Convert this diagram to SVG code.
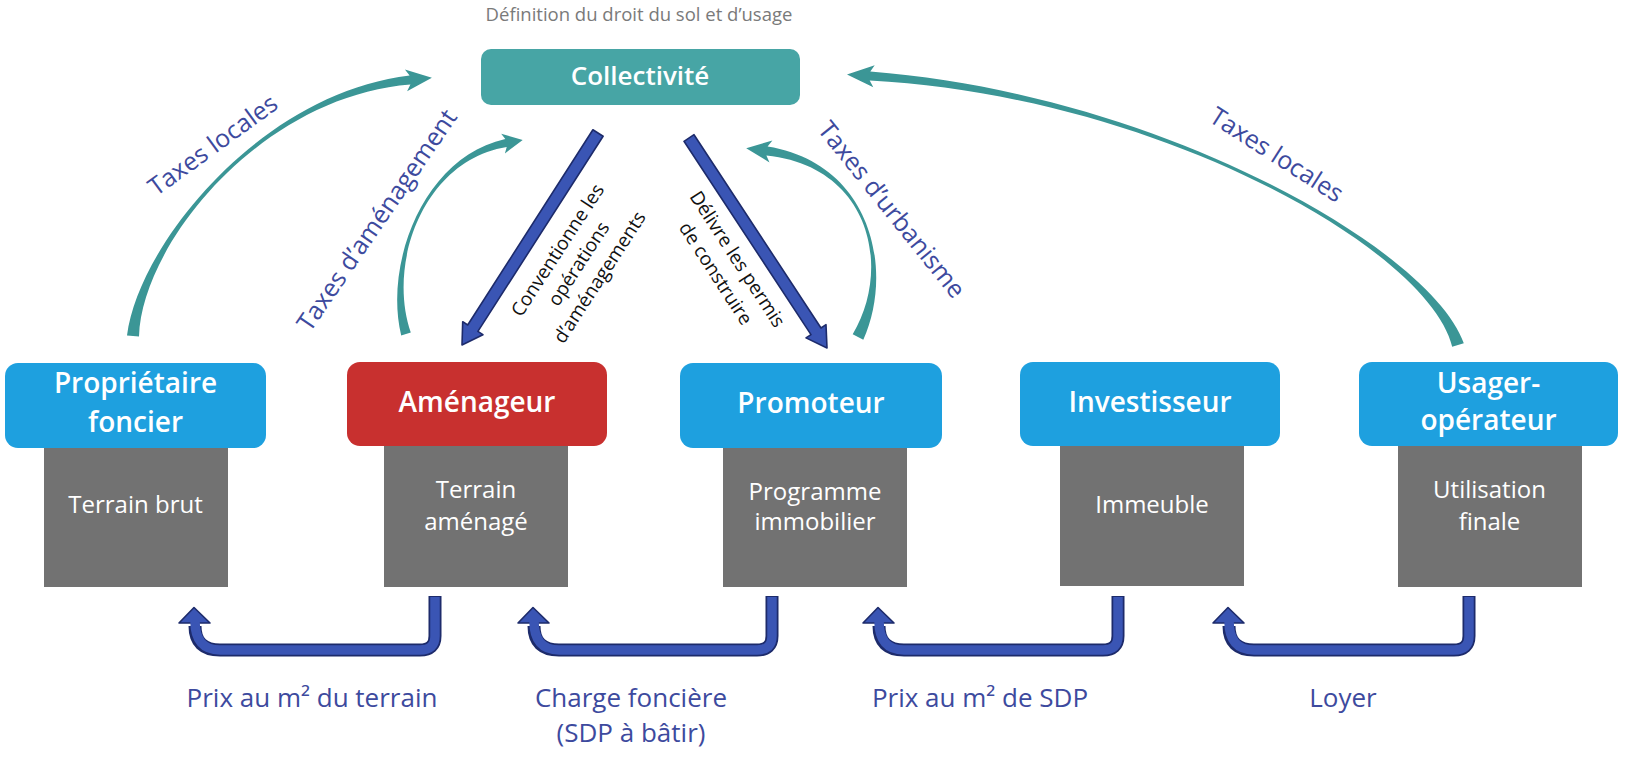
<svg xmlns="http://www.w3.org/2000/svg" width="1629" height="757" viewBox="0 0 1629 757">
<style>
text{font-family:'Open Sans','Liberation Sans',sans-serif;}
.ttl{fill:#7a7a7a;font-size:18.5px;text-anchor:middle;}
.hdr{fill:#ffffff;font-size:28px;font-weight:600;text-anchor:middle;}
.sub{fill:#ffffff;font-size:24px;text-anchor:middle;}
.blue{fill:#1ea0df;}
.red{fill:#c8302f;}
.gray{fill:#727272;}
.teal{fill:#3b9696;}
.lbl{fill:#3d4a9e;font-size:25px;text-anchor:middle;}
.blbl{fill:#3d4a9e;font-size:26px;text-anchor:middle;}
.dlbl{fill:#111111;font-size:19px;text-anchor:middle;}
.bout{fill:none;stroke:#1d2b6b;stroke-width:13;}
.bin{fill:none;stroke:#3a55b4;stroke-width:9.5;}
.bhead{fill:#3a55b4;stroke:#1d2b6b;stroke-width:1.6;stroke-linejoin:round;}
</style>

<text class="ttl" x="639" y="21">Définition du droit du sol et d’usage</text>

<g id="collectivite">
<rect x="481" y="49" width="319" height="56" rx="10" fill="#47a5a5"/>
<text x="640" y="85" fill="#ffffff" font-size="26" font-weight="600" text-anchor="middle">Collectivité</text>
</g>

<g id="proprietaire">
<rect class="gray" x="44" y="440" width="184" height="147"/>
<rect class="blue" x="5" y="363" width="261" height="85" rx="13"/>
<text class="hdr" x="135.5" y="393">Propriétaire</text>
<text class="hdr" x="135.5" y="432">foncier</text>
<text class="sub" x="135.5" y="513">Terrain brut</text>
</g>

<g id="amenageur">
<rect class="gray" x="384" y="440" width="184" height="147"/>
<rect class="red" x="347" y="362" width="260" height="84" rx="13"/>
<text class="hdr" x="477" y="412">Aménageur</text>
<text class="sub" x="476" y="498">Terrain</text>
<text class="sub" x="476" y="530">aménagé</text>
</g>

<g id="promoteur">
<rect class="gray" x="723" y="440" width="184" height="147"/>
<rect class="blue" x="680" y="363" width="262" height="85" rx="13"/>
<text class="hdr" x="811" y="413">Promoteur</text>
<text class="sub" x="815" y="500">Programme</text>
<text class="sub" x="815" y="530">immobilier</text>
</g>

<g id="investisseur">
<rect class="gray" x="1060" y="440" width="184" height="146"/>
<rect class="blue" x="1020" y="362" width="260" height="84" rx="13"/>
<text class="hdr" x="1150" y="412">Investisseur</text>
<text class="sub" x="1152" y="513">Immeuble</text>
</g>

<g id="usager">
<rect class="gray" x="1398" y="440" width="184" height="147"/>
<rect class="blue" x="1359" y="362" width="259" height="84" rx="13"/>
<text class="hdr" x="1488.5" y="393">Usager-</text>
<text class="hdr" x="1488.5" y="430">opérateur</text>
<text class="sub" x="1489.5" y="498">Utilisation</text>
<text class="sub" x="1489.5" y="530">finale</text>
</g>

<g id="connectors">
<!-- teal curved tax arrows -->
<path class="teal" d="M139,336.5 C141.5,245.1 260.1,96.5 410.4,84.5 L407.1,91.3 L431.9,77.8 L404.9,69.5 L409.6,75.5 C259.9,93.5 138.5,244.9 127,335.5 Z"/>
<path class="teal" d="M410.8,332.6 C386.4,261.6 425.3,159.5 506.7,146.9 L504.9,153.4 L522.7,139.9 L501.2,133.7 L505.3,139.1 C424.7,156.5 383.6,262.4 401.2,335.4 Z"/>
<path class="teal" d="M863.3,339.8 C894.3,270.7 872.2,163.5 767.6,146.5 L772.4,140.6 L746.2,148.2 L769.5,162.4 L766.4,155.5 C871.8,166.5 891.7,269.3 852.7,334.2 Z"/>
<path class="teal" d="M1463.8,343.3 C1431,249.7 1160.1,94 870.3,71.5 L874.7,65.3 L847,74.5 L873.3,87.3 L869.7,80.5 C1159.9,96 1429,250.3 1452.2,346.7 Z"/>

<text class="lbl" transform="translate(218,152) rotate(-36)">Taxes locales</text>
<text class="lbl" transform="translate(384,225) rotate(-55.6)">Taxes d’aménagement</text>
<text class="lbl" transform="translate(885,215) rotate(51.2)">Taxes d’urbanisme</text>
<text class="lbl" transform="translate(1272,162) rotate(32.7)">Taxes locales</text>

<!-- diagonal blue arrows -->
<polygon class="bhead" points="603.1,136.2 477.9,331.4 482.9,334.7 462,345 462.7,321.7 467.7,325 592.9,129.8"/>
<polygon class="bhead" points="694,134.7 821,328 826,324.7 827,348 806,337.9 811,334.6 684,141.3"/>
<g transform="translate(579,264) rotate(-57)">
<text class="dlbl" y="-19">Conventionne les</text>
<text class="dlbl" y="6">opérations</text>
<text class="dlbl" y="31">d’aménagements</text>
</g>
<g transform="translate(727,266) rotate(57)">
<text class="dlbl" y="-6">Délivre les permis</text>
<text class="dlbl" y="20">de construire</text>
</g>

<!-- bottom payment arrows -->
<g>
<path class="bout" d="M435,596 V636 Q435,650 420,650 H220 Q195,650 195,626"/>
<polygon class="bhead" points="179,623 194,607.5 210,623"/>
<path class="bin" d="M435,597 V636 Q435,650 420,650 H220 Q195,650 195,621"/>
</g>
<g>
<path class="bout" d="M772,596 V636 Q772,650 757,650 H559 Q534,650 534,626"/>
<polygon class="bhead" points="518,623 533,607.5 549,623"/>
<path class="bin" d="M772,597 V636 Q772,650 757,650 H559 Q534,650 534,621"/>
</g>
<g>
<path class="bout" d="M1118,596 V636 Q1118,650 1103,650 H904 Q879,650 879,626"/>
<polygon class="bhead" points="863,623 878,607.5 894,623"/>
<path class="bin" d="M1118,597 V636 Q1118,650 1103,650 H904 Q879,650 879,621"/>
</g>
<g>
<path class="bout" d="M1469,596 V636 Q1469,650 1454,650 H1254 Q1229,650 1229,626"/>
<polygon class="bhead" points="1213,623 1228,607.5 1244,623"/>
<path class="bin" d="M1469,597 V636 Q1469,650 1454,650 H1254 Q1229,650 1229,621"/>
</g>

<text class="blbl" x="312" y="707">Prix au m² du terrain</text>
<text class="blbl" x="631" y="707">Charge foncière</text>
<text class="blbl" x="631" y="742">(SDP à bâtir)</text>
<text class="blbl" x="980" y="707">Prix au m² de SDP</text>
<text class="blbl" x="1343" y="707">Loyer</text>
</g>
</svg>
